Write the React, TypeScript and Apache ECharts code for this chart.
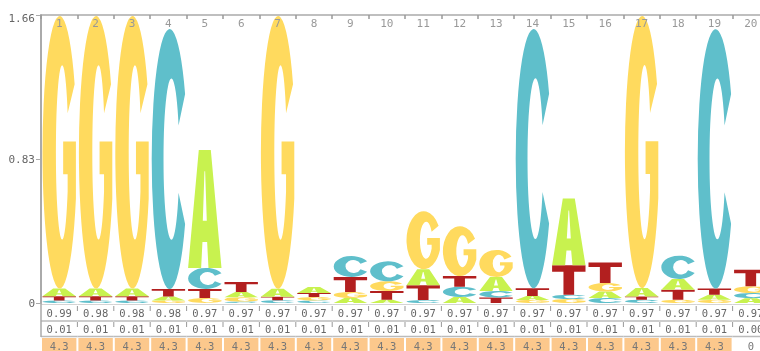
import React, { useEffect, useRef } from "react";
import * as echarts from "echarts";

const POSITIONS = ["1","2","3","4","5","6","7","8","9","10","11","12","13","14","15","16","17","18","19","20"];

// information (bits) per letter and position
const A_BITS = [0.044,0.044,0.044,0.023,0.680,0.030,0.046,0.035,0.029,0.019,0.092,0.035,0.081,0.023,0.386,0.038,0.048,0.062,0.029,0.028];
const C_BITS = [0.014,0.014,0.014,1.499,0.121,0.008,0.016,0.015,0.121,0.115,0.017,0.058,0.037,1.494,0.025,0.029,0.019,0.134,1.495,0.030];
const G_BITS = [1.571,1.571,1.571,0.015,0.029,0.025,1.572,0.019,0.035,0.056,0.334,0.288,0.156,0.018,0.023,0.048,1.568,0.019,0.019,0.038];
const T_BITS = [0.025,0.025,0.025,0.042,0.052,0.058,0.020,0.023,0.086,0.050,0.086,0.062,0.032,0.044,0.169,0.119,0.019,0.058,0.035,0.096];

// table rows under the logo
const ROW_1 = [0.99,0.98,0.98,0.98,0.97,0.97,0.97,0.97,0.97,0.97,0.97,0.97,0.97,0.97,0.97,0.97,0.97,0.97,0.97,0.97];
const ROW_2 = [0.01,0.01,0.01,0.01,0.01,0.01,0.01,0.01,0.01,0.01,0.01,0.01,0.01,0.01,0.01,0.01,0.01,0.01,0.01,0.00];
const ROW_3 = [4.3,4.3,4.3,4.3,4.3,4.3,4.3,4.3,4.3,4.3,4.3,4.3,4.3,4.3,4.3,4.3,4.3,4.3,4.3,0];

const Y_MAX = 1.66;
const Y_STEP = 0.83;

const A_PATH = "M0,100 L32,0 L68,0 L100,100 L61,100 L57,78 L43,78 L39,100 Z M44,60 L56,60 L51,18 L49,18 Z";
const C_PATH = "M93.3,25 A50,50 0 1 0 93.3,75 L75,62.9 A22,31 0 1 1 75,37.1 Z";
const G_PATH = "M93.3,25 A50,50 0 1 0 97,67 L97,46 L60,46 L60,58 L73,58 L73,64.4 A18,32 0 1 1 73,35.6 Z";
const T_PATH = "M0,0 L100,0 L100,22 L66,22 L66,100 L34,100 L34,22 L0,22 Z";

const LETTERS = [
  { key: "A", bits: A_BITS, color: "#C8F24F", path: A_PATH },
  { key: "C", bits: C_BITS, color: "#5FBFCB", path: C_PATH },
  { key: "G", bits: G_BITS, color: "#FFDA5E", path: G_PATH },
  { key: "T", bits: T_BITS, color: "#B21F1F", path: T_PATH },
];

const MONO = "'DejaVu Sans Mono', monospace";

export default function App() {
  const ref = useRef<HTMLDivElement>(null);

  useEffect(() => {
    if (!ref.current) return;
    const chart = echarts.init(ref.current, null, { renderer: "svg" });

    const data = POSITIONS.map((_, i) => [i, 0]);

    const renderLogo = (params: any, api: any) => {
      const i = api.value(0);
      const center = api.coord([i, 0]);
      const bw = api.size([1, 0])[0];
      const x0 = center[0] - bw / 2 + 1.5;
      const w = bw - 3;
      const stack = LETTERS.map((l) => ({ ...l, h: l.bits[i] })).sort((a, b) => a.h - b.h);
      let cum = 0;
      const children: any[] = [];
      for (const s of stack) {
        const yb = api.coord([i, cum])[1];
        const yt = api.coord([i, cum + s.h])[1];
        cum += s.h;
        const hp = yb - yt;
        if (hp <= 0.2) continue;
        children.push({
          type: "path",
          shape: { pathData: s.path, x: x0, y: yt, width: w, height: hp, layout: "cover" },
          style: { fill: s.color },
        });
      }
      return { type: "group", children };
    };

    const renderTable = (params: any, api: any) => {
      const i = api.value(0);
      const c = api.coord([i, 0]);
      const cx = c[0];
      const y0 = c[1];
      const bw = api.size([1, 0])[0];
      const left = cx - bw / 2;
      const children: any[] = [];
      const lineStyle = { stroke: "#bbbbbb", lineWidth: 1.5 };
      children.push({ type: "line", shape: { x1: left, y1: y0 + 1.5, x2: left + bw, y2: y0 + 1.5 }, style: { stroke: "#d4d4d4", lineWidth: 1 } });
      children.push({ type: "line", shape: { x1: left, y1: y0 + 18, x2: left + bw, y2: y0 + 18 }, style: lineStyle });
      children.push({ type: "line", shape: { x1: left, y1: y0 + 33.5, x2: left + bw, y2: y0 + 33.5 }, style: lineStyle });
      if (i === 0) {
        children.push({ type: "line", shape: { x1: left, y1: y0, x2: left, y2: y0 + 34 }, style: { stroke: "#aaaaaa", lineWidth: 1.5 } });
      } else {
        children.push({ type: "line", shape: { x1: left, y1: y0 + 3, x2: left, y2: y0 + 8 }, style: { stroke: "#999999", lineWidth: 1 } });
        children.push({ type: "line", shape: { x1: left, y1: y0 + 19, x2: left, y2: y0 + 24 }, style: { stroke: "#999999", lineWidth: 1 } });
      }
      if (ROW_3[i] > 0) {
        children.push({ type: "rect", shape: { x: left + 1, y: y0 + 35, width: bw - 2, height: 20 }, style: { fill: "#FCC88C" } });
      }
      const cell = (txt: string, y: number, color: string) => ({
        type: "text",
        x: cx,
        y,
        style: { text: txt, fill: color, font: `10.5px ${MONO}`, textAlign: "center", textVerticalAlign: "middle" },
      });
      children.push(cell(ROW_1[i].toFixed(2), y0 + 9.5, "#666666"));
      children.push(cell(ROW_2[i].toFixed(2), y0 + 26, "#666666"));
      children.push(cell(String(ROW_3[i]), y0 + 42.5, "#777777"));
      return { type: "group", children };
    };

    chart.setOption({
      animation: false,
      grid: { left: 41, top: 15, width: 728, height: 288, containLabel: false, outerBoundsMode: "none" },
      xAxis: {
        type: "category",
        position: "top",
        data: POSITIONS,
        boundaryGap: true,
        z: 10,
        axisLine: { show: true, onZero: false, lineStyle: { color: "#aaaaaa", width: 1.5 } },
        axisTick: { show: true, inside: true, length: 4, lineStyle: { color: "#999999", width: 1.5 } },
        axisLabel: { inside: true, margin: 3, color: "#999999", fontFamily: MONO, fontSize: 11, interval: 0 },
        splitLine: { show: false },
      },
      yAxis: {
        type: "value",
        min: 0,
        max: Y_MAX,
        interval: Y_STEP,
        axisLine: { show: true, lineStyle: { color: "#aaaaaa", width: 2 } },
        axisTick: { show: true, length: 5, lineStyle: { color: "#aaaaaa" } },
        splitLine: { show: false },
        axisLabel: {
          margin: 6,
          color: "#666666",
          fontFamily: MONO,
          fontSize: 11,
          formatter: (v: number) => (v >= Y_MAX - 1e-9 ? `{top|${v}}` : String(v)),
          rich: { top: { padding: [6, 0, 0, 0], color: "#666666", fontFamily: MONO, fontSize: 11 } },
        },
      },
      series: [
        { type: "custom", name: "logo", data, encode: { x: 0, y: 1 }, renderItem: renderLogo, clip: false, silent: true, z: 2 },
        { type: "custom", name: "table", data, encode: { x: 0, y: 1 }, renderItem: renderTable, clip: false, silent: true, z: 3 },
      ],
    });

    return () => chart.dispose();
  }, []);

  return <div ref={ref} style={{ position: "fixed", left: 0, top: 0, width: 760, height: 351 }} />;
}
